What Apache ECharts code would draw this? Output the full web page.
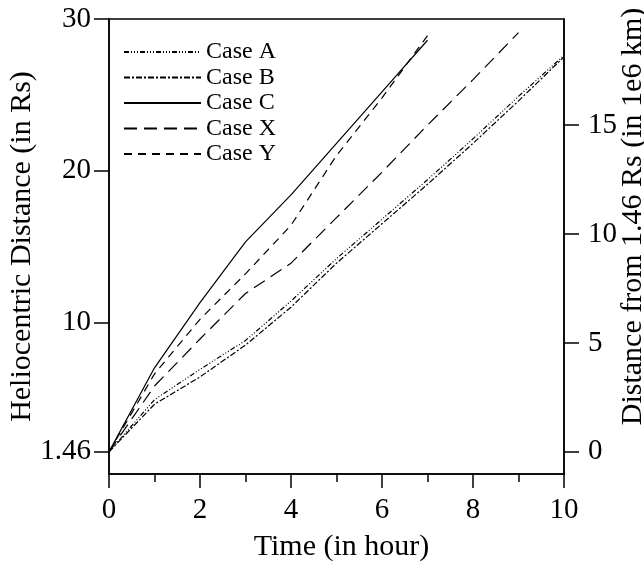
<!DOCTYPE html>
<html><head><meta charset="utf-8">
<script src="https://cdn.jsdelivr.net/npm/echarts@6/dist/echarts.min.js"></script>
<style>html,body{margin:0;padding:0;background:#fff}#c{width:644px;height:564px}</style>
</head><body><div id="c"></div>
<script>
var hours = [0,1,2,3,4,5,6,7,8,9,10];
var caseA = [1.46, 4.9, 6.9, 8.8, 11.4, 14.2, 16.8, 19.4, 22.1, 24.9, 27.6];
var caseB = [1.46, 4.6, 6.4, 8.5, 11.0, 13.9, 16.5, 19.1, 21.8, 24.6, 27.5];
var caseC = [1.46, 7.0, 11.3, 15.3, 18.4, 21.8, 25.2, 28.6];
var caseX = [1.46, 5.8, 8.9, 11.9, 13.9, 16.9, 19.9, 23.0, 26.0, 29.1];
var caseY = [1.46, 6.6, 10.2, 13.2, 16.4, 21.0, 24.8, 28.9];
var leftTicks = [1.46, 10, 20, 30];
var rightTicks = [0, 5, 10, 15];
var rsToMkm = 0.696;
var r0 = 1.46;

function pairs(v){ return v.map(function(y,i){ return [hours[i], y]; }); }
var font = 'Liberation Serif';
var chart = echarts.init(document.getElementById('c'), null, {renderer:'canvas'});
function mk(name, vals, dash){
  return {name:name, type:'line', xAxisIndex:0, yAxisIndex:0, data:pairs(vals),
    symbol:'none', showSymbol:false, smooth:false, animation:false,
    lineStyle:{color:'#000', width:1.2, type:dash},
    itemStyle:{color:'#000'}};
}
chart.setOption({
  animation:false,
  backgroundColor:'#fff',
  textStyle:{fontFamily:font, color:'#000'},
  grid:{left:109, right:80, top:19, bottom:90, outerBoundsMode:'none', containLabel:false,
    show:true, borderColor:'#000', borderWidth:1.5, backgroundColor:'transparent'},
  legend:{orient:'vertical', left:123, top:40, padding:0, itemWidth:77, itemHeight:14, itemGap:1.5,
    itemStyle:{opacity:0},
    textStyle:{fontFamily:font, fontSize:24, color:'#000', lineHeight:24},
    data:['Case A','Case B','Case C','Case X','Case Y']},
  xAxis:{type:'value', min:0, max:10, interval:2,
    name:'Time (in hour)', nameLocation:'middle', nameGap:58, nameMoveOverlap:false,
    nameTextStyle:{fontFamily:font, fontSize:30, color:'#000', padding:[0,0,0,10]},
    axisLine:{lineStyle:{color:'#000', width:1.5}},
    axisTick:{length:14, lineStyle:{color:'#000', width:1.5}},
    minorTick:{show:true, splitNumber:2, length:8, lineStyle:{color:'#000', width:1.5}},
    axisLabel:{margin:22, fontFamily:font, fontSize:29, color:'#000'},
    splitLine:{show:false}},
  yAxis:[
    {type:'value', min:0, max:30, position:'left',
      name:'Heliocentric Distance (in Rs)', nameLocation:'middle', nameGap:72, nameRotate:90, nameMoveOverlap:false,
      nameTextStyle:{fontFamily:font, fontSize:30, color:'#000'},
      axisLine:{show:true, lineStyle:{color:'#000', width:1.5}},
      axisTick:{show:true, length:15, customValues:leftTicks, lineStyle:{color:'#000', width:1.5}},
      axisLabel:{margin:18, fontFamily:font, fontSize:29, color:'#000', customValues:leftTicks,
        formatter:function(v){ return String(v); }},
      splitLine:{show:false}},
    {type:'value', min:-r0*rsToMkm, max:(30-r0)*rsToMkm, position:'right',
      name:'Distance from 1.46 Rs (in 1e6 km)', nameLocation:'middle', nameGap:54, nameRotate:90, nameMoveOverlap:false,
      nameTextStyle:{fontFamily:font, fontSize:30, color:'#000', padding:[0,0,0,60]},
      axisLine:{show:true, lineStyle:{color:'#000', width:1.5}},
      axisTick:{show:true, length:15, customValues:rightTicks, lineStyle:{color:'#000', width:1.5}},
      axisLabel:{margin:24, fontFamily:font, fontSize:29, color:'#000', customValues:rightTicks,
        formatter:function(v){ return String(v); }},
      splitLine:{show:false}}
  ],
  series:[
    mk('Case A', caseA, [5,2,1,2,1,2,1,2]),
    mk('Case B', caseB, [6,2,2,2]),
    mk('Case C', caseC, 'solid'),
    mk('Case X', caseX, [13,7]),
    mk('Case Y', caseY, [8,6])
  ]
});
</script></body></html>
